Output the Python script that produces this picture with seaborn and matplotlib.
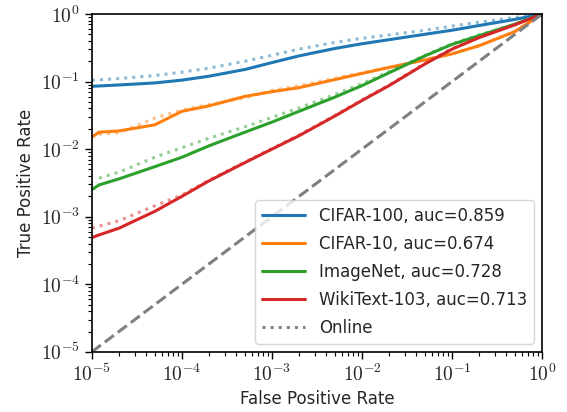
import numpy as np
import pandas as pd
import seaborn as sns
import matplotlib
matplotlib.use("Agg")
import matplotlib.pyplot as plt
from matplotlib.lines import Line2D
from matplotlib.ticker import FuncFormatter, LogLocator

# -----------------------------
# DATA
# -----------------------------
fpr = [1e-5, 1.2e-5, 2e-5, 5e-5, 1e-4, 2e-4, 5e-4, 1e-3, 2e-3, 5e-3,
       1e-2, 2e-2, 5e-2, 0.1, 0.2, 0.5, 1.0]

datasets = ["CIFAR-100", "CIFAR-10", "ImageNet", "WikiText-103"]
aucs = [0.859, 0.674, 0.728, 0.713]

tpr_cifar100 = [0.0851, 0.0861, 0.0891, 0.0955, 0.105, 0.120, 0.151, 0.191, 0.240,
                0.309, 0.363, 0.417, 0.501, 0.575, 0.676, 0.832, 1.0]
tpr_cifar10 = [0.0151, 0.0178, 0.0186, 0.0229, 0.0363, 0.0437, 0.0603, 0.0708, 0.0813,
               0.107, 0.132, 0.162, 0.209, 0.257, 0.339, 0.550, 1.0]
tpr_imagenet = [0.00251, 0.00295, 0.00363, 0.00550, 0.00759, 0.0112, 0.0178, 0.0251,
                0.0363, 0.0589, 0.0871, 0.135, 0.240, 0.355, 0.479, 0.708, 1.0]
tpr_wikitext = [0.000490, 0.000537, 0.000676, 0.00120, 0.00200, 0.00339, 0.00631,
                0.0100, 0.0158, 0.0309, 0.0525, 0.0871, 0.182, 0.302, 0.447, 0.692, 1.0]

# online attack variants (dotted)
tpr_cifar100_online = [0.105, 0.106, 0.111, 0.123, 0.138, 0.158, 0.200, 0.245, 0.302,
                       0.380, 0.437, 0.490, 0.575, 0.661, 0.759, 0.891, 1.0]
tpr_cifar10_online = [np.nan, 0.0166, 0.0174, 0.0288, 0.0380, 0.0457, 0.0575, 0.0741,
                      0.0871, 0.112, 0.135, 0.162, 0.209, 0.257, 0.339, 0.550, 1.0]
tpr_imagenet_online = [np.nan, 0.00372, 0.00457, 0.00759, 0.0105, 0.0145, 0.0214, 0.0295,
                       0.0407, 0.0646, 0.0933, 0.141, 0.245, 0.363, 0.490, 0.708, 1.0]
tpr_wikitext_online = [0.000676, 0.000724, 0.000871, 0.00145, 0.00209, 0.00347, 0.00646,
                       0.0102, 0.0162, 0.0316, 0.0537, 0.0891, 0.186, 0.309, 0.457, 0.692, 1.0]

offline = [tpr_cifar100, tpr_cifar10, tpr_imagenet, tpr_wikitext]
online = [tpr_cifar100_online, tpr_cifar10_online, tpr_imagenet_online, tpr_wikitext_online]

# -----------------------------
# STYLE
# -----------------------------
sns.set_style("ticks")
plt.rcParams["font.family"] = ["DejaVu Sans"]
plt.rcParams["mathtext.fontset"] = "cm"

colors = sns.color_palette("tab10", 4)

fig, ax = plt.subplots(figsize=(5.67, 4.12), dpi=100)
fig.subplots_adjust(left=0.162, right=0.956, top=0.966, bottom=0.146)
ax.set_xscale("log")
ax.set_yscale("log")

# -----------------------------
# CURVES
# -----------------------------
for name, tpr, tpr_on, c in zip(datasets, offline, online, colors):
    df_on = pd.DataFrame({"fpr": fpr, "tpr": tpr_on}).dropna()
    sns.lineplot(data=df_on, x="fpr", y="tpr", ax=ax, color=c, alpha=0.5,
                 linestyle=":", linewidth=2.2, estimator=None, sort=False)
    df = pd.DataFrame({"fpr": fpr, "tpr": tpr})
    sns.lineplot(data=df, x="fpr", y="tpr", ax=ax, color=c, linewidth=2.2,
                 estimator=None, sort=False)

diag = pd.DataFrame({"fpr": [1e-5, 1.0], "tpr": [1e-5, 1.0]})
sns.lineplot(data=diag, x="fpr", y="tpr", ax=ax, color="gray", linestyle="--",
             linewidth=2.2, estimator=None)

ax.set_xlim(1e-5, 1)
ax.set_ylim(1e-5, 1)

fmt = FuncFormatter(lambda v, p: r"$10^{%d}$" % int(round(np.log10(v))))
for axis in (ax.xaxis, ax.yaxis):
    axis.set_major_locator(LogLocator(base=10, numticks=10))
    axis.set_major_formatter(fmt)
ax.tick_params(labelsize=14, width=1, length=5, color="black")
ax.tick_params(which="minor", width=0.8, length=3, color="black")

for s in ax.spines.values():
    s.set_color("black")
    s.set_linewidth(1.2)

ax.set_xlabel("False Positive Rate", fontsize=12)
ax.set_ylabel("True Positive Rate", fontsize=12)

handles = [Line2D([], [], color=c, linewidth=2.2) for c in colors]
labels = [f"{n}, auc={a:.3f}" for n, a in zip(datasets, aucs)]
handles.append(Line2D([], [], color="gray", linestyle=":", linewidth=2.2))
labels.append("Online")
ax.legend(handles, labels, loc="lower right", fontsize=12, frameon=True,
          handlelength=2.6, labelspacing=0.6)

plt.savefig("out.png", dpi=100)
